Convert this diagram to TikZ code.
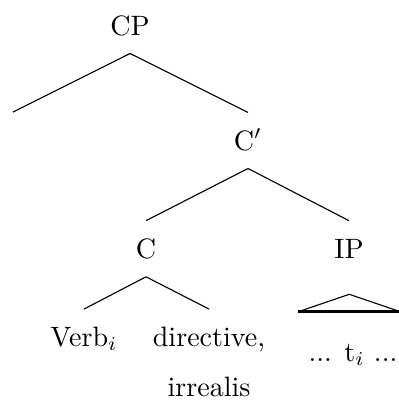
\documentclass[tikz,border=0pt]{standalone}
\usepackage{amsmath}
\usepackage{tikz}
\tikzstyle{cat} = [inner sep=0pt, text height=6.83pt, text depth=0pt, outer ysep=6.6pt, anchor=base]
\tikzstyle{branch} = [line width=0.4pt]
\tikzstyle{roof} = [line width=1.1pt]

\begin{document}
\begin{tikzpicture}[x=0.01255cm, y=-0.01255cm]
        \useasboundingbox (0,0) rectangle (399,402);
        \node (CP) [cat] at (130,35) {CP};
        \coordinate (spec) at (13,112);
        \node (Cbar) [cat] at (248,150) {C$'$};
        \node (C) [cat] at (146,258.3) {C};
        \node (IP) [cat] at (349,258.3) {IP};
        \node (verb) [cat] at (84,346.7) {Verb$_i$};
        \node (dir) [cat] at (209,346.7) {directive,};
        \node (irr) [cat] at (209,396) {irrealis};
        \node (trace) [cat] at (353,361.7) {... t$_i$ ...};
        \draw [branch] (CP.south) -- (spec);
        \draw [branch] (CP.south) -- (Cbar.north);
        \draw [branch] (Cbar.south) -- (C.north);
        \draw [branch] (Cbar.south) -- (IP.north);
        \draw [branch] (C.south) -- (verb.north);
        \draw [branch] (C.south) -- (dir.north);
        % triangle under IP
        \coordinate (apex) at (349.3,294.3);
        \coordinate (baseL) at (298.3,311.7);
        \coordinate (baseR) at (400.3,311.7);
        \draw [branch] (baseL) -- (apex) -- (baseR);
        \draw [roof] (baseL) -- (baseR);
\end{tikzpicture}
\end{document}
